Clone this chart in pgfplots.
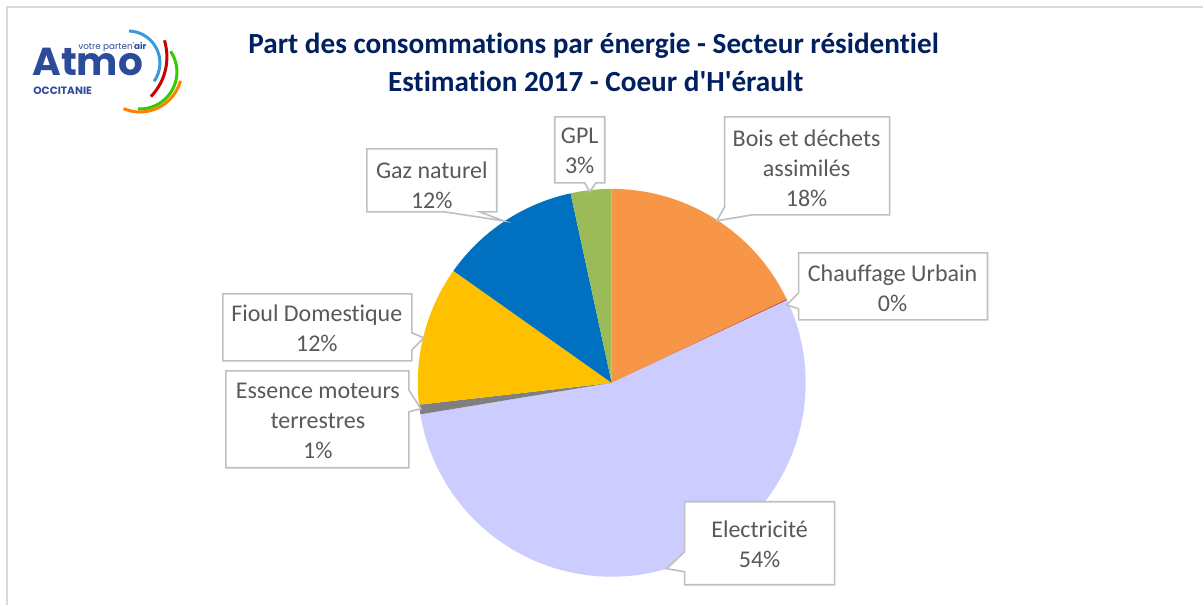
\documentclass[border=0pt]{standalone}
\usepackage{pgfplots}
\pgfplotsset{compat=1.18}
\usepackage{pgfplotstable}
\usepackage{fontspec}
\setmainfont{Carlito}[Ligatures={ResetAll,NoCommon}]
\newfontfamily\logofont{Poppins}
% straight apostrophe, bypassing the TeX quote mapping
\newcommand\sq{\XeTeXglyph\XeTeXcharglyph"0027\relax}

\definecolor{bois}{HTML}{F79646}
\definecolor{chauf}{HTML}{C0504D}
\definecolor{elec}{HTML}{CCCCFF}
\definecolor{ess}{HTML}{7F7F7F}
\definecolor{fioul}{HTML}{FFC000}
\definecolor{gaz}{HTML}{0070C0}
\definecolor{gpl}{HTML}{9BBB59}
\definecolor{titlecol}{HTML}{002060}
\definecolor{txt}{HTML}{595959}
\definecolor{boxline}{HTML}{BFBFBF}
\definecolor{frame}{HTML}{D9D9D9}
\definecolor{atmo}{HTML}{2D4B9B}

% share of each energy, clockwise from the top
\pgfplotstableread{
label value color
Bois 17.9 bois
Chauffage 0.1 chauf
Elec 54.4 elec
Essence 0.8 ess
Fioul 11.6 fioul
Gaz 11.8 gaz
GPL 3.4 gpl
}\piedata

\begin{document}
\begin{tikzpicture}
\begin{axis}[
  x=0.5pt, y=0.5pt,
  xmin=0, xmax=1204, ymin=0, ymax=605,
  y dir=reverse,
  hide axis, clip=false,
]
\fill[white] (axis cs:0,0) rectangle (axis cs:1204,605);
\draw[frame, line width=0.6pt] (axis cs:7,605) -- (axis cs:7,7) -- (axis cs:1204,7);

% pie
\pgfplotstablegetrowsof{\piedata}
\pgfmathtruncatemacro\nrows{\pgfplotsretval-1}
\def\angstart{90}
\pgfplotsforeachungrouped \i in {0,...,\nrows}{%
  \pgfplotstablegetelem{\i}{value}\of\piedata \let\v\pgfplotsretval
  \pgfplotstablegetelem{\i}{color}\of\piedata \let\c\pgfplotsretval
  \pgfmathsetmacro\angend{\angstart-3.6*\v}%
  \edef\temp{\noexpand\fill[\c] (axis cs:612,383) -- ++(\angstart:97pt)
    arc[start angle=\angstart, end angle=\angend, radius=97pt] -- cycle;}%
  \temp
  \let\angstart\angend
}

% callouts
\tikzset{callout/.style={fill=white, draw=boxline, line width=0.8pt, line join=miter}}
\draw[callout] (axis cs:555,117) -- (axis cs:605,117) -- (axis cs:605,183) -- (axis cs:596,183)
  -- (axis cs:590,192) -- (axis cs:585,183) -- (axis cs:555,183) -- cycle;
\draw[callout] (axis cs:725,117) -- (axis cs:890,117) -- (axis cs:890,215) -- (axis cs:752,215)
  -- (axis cs:717,221) -- (axis cs:725,207) -- cycle;
\draw[callout] (axis cs:799,253) -- (axis cs:988,253) -- (axis cs:988,320) -- (axis cs:799,320)
  -- (axis cs:799,309) -- (axis cs:787,305) -- (axis cs:799,293) -- cycle;
\draw[callout] (axis cs:223,294) -- (axis cs:412,294) -- (axis cs:412,333) -- (axis cs:424,338)
  -- (axis cs:412,350) -- (axis cs:412,361) -- (axis cs:223,361) -- cycle;
\draw[callout] (axis cs:226,371) -- (axis cs:409,371) -- (axis cs:409,390) -- (axis cs:421,409)
  -- (axis cs:409,412) -- (axis cs:409,468) -- (axis cs:226,468) -- cycle;
\draw[callout] (axis cs:685,502) -- (axis cs:835,502) -- (axis cs:835,585) -- (axis cs:685,585)
  -- (axis cs:685,572) -- (axis cs:667,569) -- (axis cs:685,552) -- cycle;
\draw[callout] (axis cs:367,149) -- (axis cs:497,149) -- (axis cs:497,212) -- (axis cs:480,212)
  -- (axis cs:504,221) -- (axis cs:445,212) -- (axis cs:367,212) -- cycle;

\tikzset{lbl/.style={align=center, text=txt, inner sep=0pt, font=\fontsize{12}{15}\selectfont}}
\node[lbl] at (axis cs:580,151) {GPL\\3\%};
\node[lbl] at (axis cs:807,168) {Bois et déchets\\assimilés\\18\%};
\node[lbl] at (axis cs:893,288) {Chauffage Urbain\\0\%};
\node[lbl] at (axis cs:317,328) {Fioul Domestique\\12\%};
\node[lbl] at (axis cs:318,421) {Essence moteurs\\terrestres\\1\%};
\node[lbl] at (axis cs:760,545) {Electricité\\54\%};
\node[lbl] at (axis cs:432,185) {Gaz naturel\\12\%};

% title
\node[text=titlecol, font=\fontsize{14.6}{17}\selectfont\bfseries] at (axis cs:594,46)
  {Part des consommations par énergie - Secteur résidentiel};
\node[text=titlecol, font=\fontsize{14.6}{17}\selectfont\bfseries] at (axis cs:596,81)
  {Estimation 2017 - Coeur d\sq H\sq érault};

% logo
\node[anchor=base west, inner sep=0pt, text=atmo, font=\logofont\fontsize{19.5}{20}\selectfont\bfseries]
  at (axis cs:32,76) {Atmo};
\node[anchor=base west, inner sep=0pt, text=atmo, font=\logofont\fontsize{4.4}{5}\selectfont]
  at (axis cs:78,50) {votre parten\sq\textbf{air}};
\node[anchor=base west, inner sep=0pt, text=atmo, font=\logofont\fontsize{5.3}{6}\selectfont\bfseries]
  at (axis cs:33,95) {OCCITANIE};
\draw[cyan!70!blue!80, line width=1.5pt] (axis cs:128,63) ++(88:16pt) arc[start angle=88, end angle=-35, radius=16pt];
\draw[red!80!black, line width=1.5pt] (axis cs:110,57) ++(17:28.5pt) arc[start angle=17, end angle=-44, radius=28.5pt];
\draw[green!60!olive, line width=1.5pt] (axis cs:140,72) ++(34:18.5pt) arc[start angle=34, end angle=-93, radius=18.5pt];
\draw[orange, line width=1.5pt] (axis cs:140,70) ++(-15:21pt) arc[start angle=-15, end angle=-113, radius=21pt];
\end{axis}
\end{tikzpicture}
\end{document}
